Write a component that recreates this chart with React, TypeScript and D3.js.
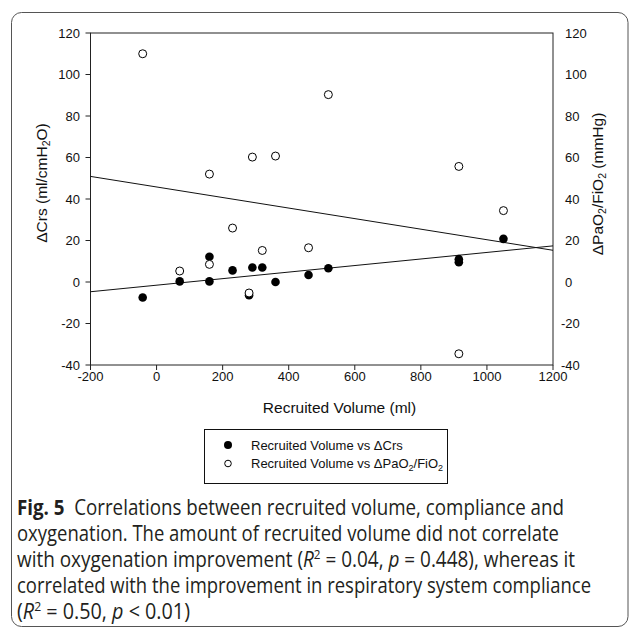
import React from "react";
import * as d3 from "d3";

// ---- data ----
const recruitedVolume = [-42, 70, 160, 160, 230, 280, 290, 320, 360, 460, 520, 915, 915, 1050];
const deltaCrs = [-7.5, 0.3, 12.2, 0.3, 5.6, -6.4, 7.0, 7.0, 0.0, 3.4, 6.6, 11.0, 9.5, 20.8];
const deltaPaO2FiO2 = [110, 5.3, 8.5, 52, 26, -5.3, 60.2, 15.2, 60.7, 16.5, 90.3, 55.7, -34.6, 34.4];
const fitSlopes = [0.01579, -0.02543];
const fitIntercepts = [-1.54, 45.8];
const xTicks = [-200, 0, 200, 400, 600, 800, 1000, 1200];
const yTicks = [-40, -20, 0, 20, 40, 60, 80, 100, 120];

const W = 629;
const H = 630;
const ARIAL = "'Liberation Sans', Arial, sans-serif";
const CAP = "'Open Sans', 'Noto Sans', sans-serif";

export default function App() {
  const x = d3.scaleLinear().domain([-200, 1200]).range([90.5, 553]);
  const y = d3.scaleLinear().domain([-40, 120]).range([365, 33]);
  const [x0, x1] = x.domain();

  const lines = fitSlopes.map((s, k) => {
    const pts: [number, number][] = [x0, x1].map((v) => [x(v), y(fitIntercepts[k] + s * v)]);
    return d3.line()(pts) as string;
  });

  const tickFont = 13;
  const capY = [515, 541, 567, 593, 619];
  return (
    <svg
      width={W}
      height={H}
      style={{ position: "absolute", left: 0, top: 0, background: "#fff" }}
      fontFamily={ARIAL}
    >
      <rect x={11.5} y={12.5} width={616.5} height={614} rx={10} fill="none" stroke="#555" strokeWidth={1} />

      {/* plot frame */}
      <rect x={x(x0)} y={y(120)} width={x(x1) - x(x0)} height={y(-40) - y(120)} fill="none" stroke="#222" strokeWidth={1} />

      {/* left axis ticks + labels, right labels */}
      {yTicks.map((t) => (
        <g key={"ly" + t}>
          <line x1={x(x0) - 5} x2={x(x0)} y1={y(t)} y2={y(t)} stroke="#222" />
          <text x={80} y={y(t)} dy="0.36em" textAnchor="end" fontSize={tickFont} fill="#111">
            {t}
          </text>
          <text x={t < 0 ? 561 : 565} y={y(t)} dy="0.36em" textAnchor="start" fontSize={tickFont} fill="#111">
            {t}
          </text>
        </g>
      ))}

      {/* bottom axis */}
      {xTicks.map((t) => (
        <g key={"bx" + t}>
          <line x1={x(t)} x2={x(t)} y1={y(-40)} y2={y(-40) + 5} stroke="#222" />
          <text x={x(t)} y={381} textAnchor="middle" fontSize={tickFont} fill="#111">
            {t}
          </text>
        </g>
      ))}

      <text x={339.5} y={413} textAnchor="middle" fontSize={15.5} fill="#111">
        Recruited Volume (ml)
      </text>

      <text transform={`translate(47,183) rotate(-90)`} textAnchor="middle" fontSize={15.5} fill="#111">
        ΔCrs (ml/cmH
        <tspan fontSize={10.5} dy={3}>2</tspan>
        <tspan dy={-3}>O)</tspan>
      </text>

      <text transform={`translate(603,184) rotate(-90)`} textAnchor="middle" fontSize={15.5} fill="#111">
        ΔPaO
        <tspan fontSize={10.5} dy={3}>2</tspan>
        <tspan dy={-3}>/FiO</tspan>
        <tspan fontSize={10.5} dy={3}>2</tspan>
        <tspan dy={-3}> (mmHg)</tspan>
      </text>

      {/* regression lines */}
      {lines.map((d, i) => (
        <path key={"fit" + i} d={d} fill="none" stroke="#111" strokeWidth={1} />
      ))}

      {/* filled points: ΔCrs */}
      {recruitedVolume.map((v, i) => (
        <circle key={"f" + i} cx={x(v)} cy={y(deltaCrs[i])} r={4.3} fill="#000" />
      ))}
      {/* open points: ΔPaO2/FiO2 */}
      {recruitedVolume.map((v, i) => (
        <circle key={"o" + i} cx={x(v)} cy={y(deltaPaO2FiO2[i])} r={4} fill="#fff" stroke="#000" strokeWidth={1} />
      ))}

      {/* legend */}
      <rect x={204.5} y={429.5} width={243} height={54} fill="#fff" stroke="#111" strokeWidth={1} />
      <circle cx={228} cy={445} r={4} fill="#000" />
      <circle cx={228} cy={463.5} r={3.3} fill="#fff" stroke="#000" strokeWidth={1} />
      <text x={251} y={449.5} fontSize={13} fill="#111">
        Recruited Volume vs ΔCrs
      </text>
      <text x={251} y={468} fontSize={13} fill="#111">
        Recruited Volume vs ΔPaO
        <tspan fontSize={9} dy={3}>2</tspan>
        <tspan dy={-3}>/FiO</tspan>
        <tspan fontSize={9} dy={3}>2</tspan>
      </text>

      {/* caption */}
      <g fontFamily={CAP} fontSize={21} fill="#231f20">
        <text x={17} y={capY[0]} textLength={547} lengthAdjust="spacingAndGlyphs">
          <tspan fontWeight="bold">Fig. 5</tspan>
          <tspan>{"\u00a0 Correlations between recruited volume, compliance and"}</tspan>
        </text>
        <text x={17} y={capY[1]} textLength={542} lengthAdjust="spacingAndGlyphs">
          oxygenation. The amount of recruited volume did not correlate
        </text>
        <text x={17} y={capY[2]} textLength={558} lengthAdjust="spacingAndGlyphs">
          <tspan>with oxygenation improvement (</tspan>
          <tspan fontStyle="italic">R</tspan>
          <tspan fontSize={13} dy={-8}>2</tspan>
          <tspan dy={8}>{" = 0.04, "}</tspan>
          <tspan fontStyle="italic">p</tspan>
          <tspan>{" = 0.448), whereas it"}</tspan>
        </text>
        <text x={17} y={capY[3]} textLength={574} lengthAdjust="spacingAndGlyphs">
          correlated with the improvement in respiratory system compliance
        </text>
        <text x={17} y={capY[4]} textLength={173} lengthAdjust="spacingAndGlyphs">
          <tspan>(</tspan>
          <tspan fontStyle="italic">R</tspan>
          <tspan fontSize={13} dy={-8}>2</tspan>
          <tspan dy={8}>{" = 0.50, "}</tspan>
          <tspan fontStyle="italic">p</tspan>
          <tspan>{" < 0.01)"}</tspan>
        </text>
      </g>
    </svg>
  );
}
